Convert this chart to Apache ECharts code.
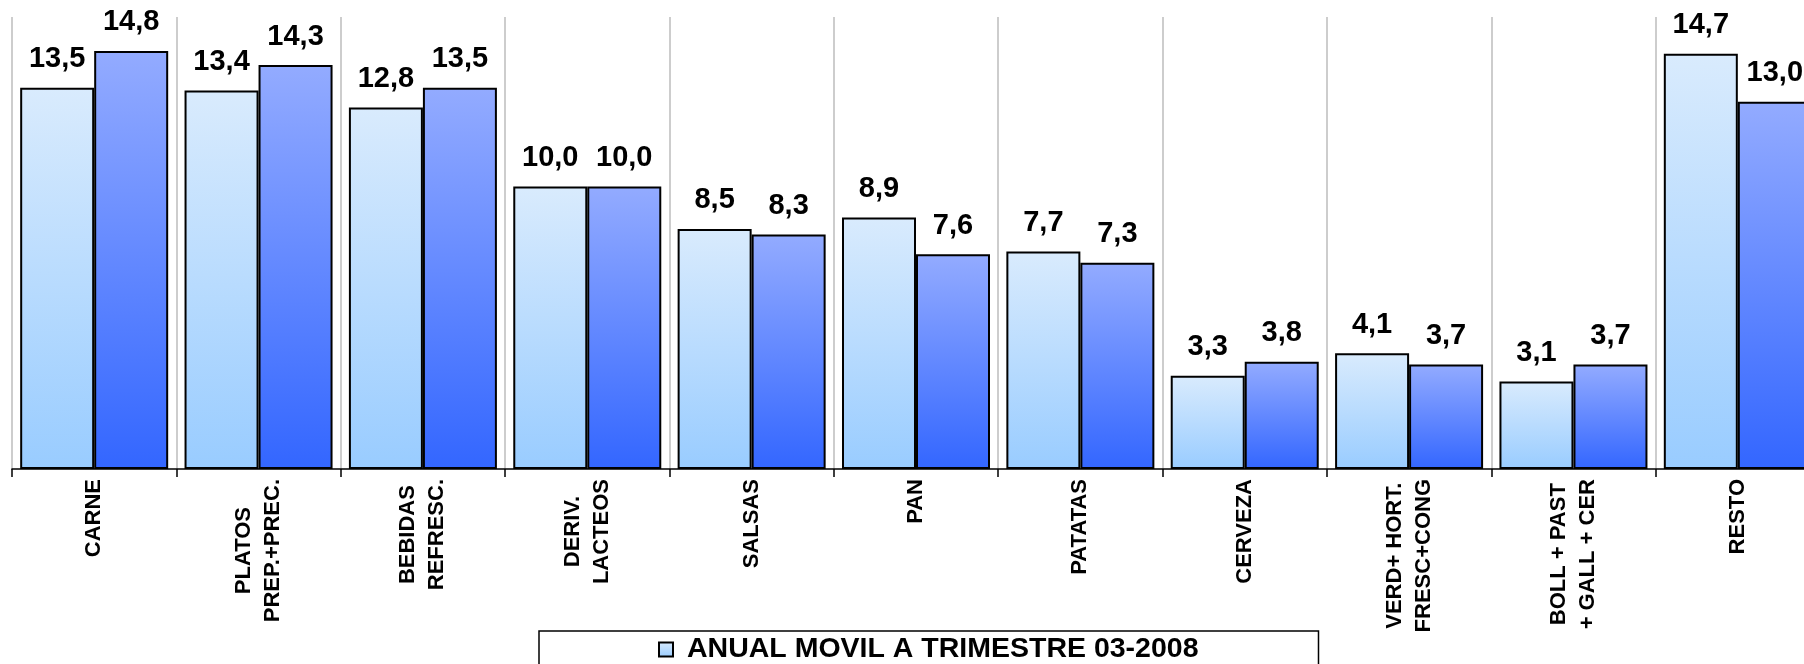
<!DOCTYPE html>
<html>
<head>
<meta charset="utf-8">
<script src="https://cdn.jsdelivr.net/npm/echarts@6/dist/echarts.min.js"></script>
<style>
  html, body { margin: 0; padding: 0; background: #fff; }
  #main { width: 1804px; height: 664px; }
</style>
</head>
<body>
<div id="main"></div>
<script>
// datos
var categories = ['CARNE', 'PLATOS\nPREP.+PREC.', 'BEBIDAS\nREFRESC.', 'DERIV.\nLACTEOS', 'SALSAS', 'PAN',
  'PATATAS', 'CERVEZA', 'VERD+ HORT.\nFRESC+CONG', 'BOLL + PAST\n+ GALL + CER', 'RESTO'];
var serie2008 = [13.5, 13.4, 12.8, 10.0, 8.5, 8.9, 7.7, 3.3, 4.1, 3.1, 14.7];
var serie2009 = [14.8, 14.3, 13.5, 10.0, 8.3, 7.6, 7.3, 3.8, 3.7, 3.7, 13.0];
var nombre2008 = 'ANUAL MOVIL A TRIMESTRE 03-2008';
var nombre2009 = 'ANUAL MOVIL A TRIMESTRE 03-2009';

var chart = echarts.init(document.getElementById('main'));

function etiqueta(p) {
  return p.value.toFixed(1).replace('.', ',');
}

var labelBarra = {
  show: true,
  position: 'top',
  distance: 14,
  color: '#000',
  fontSize: 29,
  fontWeight: 'bold',
  formatter: etiqueta
};

chart.setOption({
  animation: false,
  textStyle: { fontFamily: 'Liberation Sans, Arial, sans-serif' },
  // la ultima categoria queda cortada por el borde derecho
  grid: { left: 12, width: 1808, top: 17, bottom: 195, outerBoundsMode: 'none', containLabel: false },
  legend: {
    data: [nombre2008],
    icon: 'rect',
    left: 539,
    top: 631,
    padding: [4, 120, 30, 119],
    borderColor: '#000',
    borderWidth: 1.5,
    backgroundColor: '#fff',
    itemWidth: 14,
    itemHeight: 14,
    textStyle: { fontSize: 28.5, fontWeight: 'bold', color: '#000', padding: [0, 0, 0, 9] }
  },
  xAxis: {
    type: 'category',
    data: categories,
    axisLine: { lineStyle: { color: '#000', width: 1.5 } },
    axisTick: { show: true, length: 8, interval: 0, lineStyle: { color: '#000', width: 1.5 } },
    splitLine: { show: true, interval: 0, lineStyle: { color: '#bdbdbd', width: 1.5 } },
    axisLabel: {
      interval: 0,
      rotate: 90,
      margin: 10,
      color: '#000',
      formatter: function (v) {
        return v.split('\n').map(function (s) { return '{c|' + s + '}'; }).join('\n');
      },
      rich: {
        c: { align: 'center', fontSize: 22, fontWeight: 'bold', lineHeight: 29, color: '#000' }
      }
    }
  },
  yAxis: {
    type: 'value',
    min: 0,
    max: 16,
    show: false,
    splitLine: { show: false }
  },
  series: [
    {
      type: 'bar',
      name: nombre2008,
      data: serie2008,
      barWidth: 74,
      barGap: '0%',
      itemStyle: {
        borderColor: '#000',
        borderWidth: 2,
        color: new echarts.graphic.LinearGradient(0, 0, 0, 1, [
          { offset: 0, color: '#d9ebfd' },
          { offset: 1, color: '#99ccff' }
        ])
      },
      label: labelBarra
    },
    {
      type: 'bar',
      name: nombre2009,
      data: serie2009,
      barWidth: 74,
      barGap: '0%',
      itemStyle: {
        borderColor: '#000',
        borderWidth: 2,
        color: new echarts.graphic.LinearGradient(0, 0, 0, 1, [
          { offset: 0, color: '#93abff' },
          { offset: 1, color: '#3366ff' }
        ])
      },
      label: labelBarra
    }
  ]
});

window.addEventListener('resize', function () {
  chart.resize();
});
</script>
</body>
</html>
